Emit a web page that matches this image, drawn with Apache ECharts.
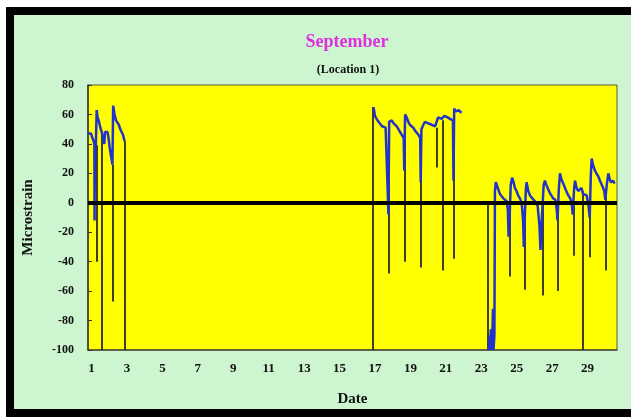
<!DOCTYPE html>
<html><head><meta charset="utf-8">
<script src="https://cdn.jsdelivr.net/npm/echarts@6/dist/echarts.min.js"></script>
<style>
html,body{margin:0;padding:0;background:#fff;width:631px;height:417px;overflow:hidden}
#frame{position:absolute;left:6px;top:7px;width:640px;height:394px;border-top:8px solid #000;border-left:8px solid #000;border-bottom:8px solid #000;background:#cdf5cf}
#chart{position:absolute;left:0;top:0;width:631px;height:417px}
</style></head><body>
<div id="frame"></div><div id="chart"></div>
<script>
// Trace readings (day of month, microstrain); null = no data
const traceDays = [
 0.80,0.88,0.97,1.05,1.12,1.16,1.17,1.19,1.24,1.28,1.29,1.34,1.40,1.46,1.52,1.58,1.62,1.67,1.72,1.76,1.82,1.90,1.96,2.02,2.08,2.14,2.18,2.22,2.30,2.38,2.46,2.54,2.62,2.70,2.78,2.86,2.90,
 16.92,17.00,17.09,17.20,17.28,17.40,17.50,17.60,17.70,17.76,17.80,17.94,18.05,18.13,18.22,18.31,18.42,18.52,18.62,18.65,18.70,18.79,18.88,18.97,19.06,19.16,19.26,19.36,19.46,19.55,19.58,19.62,19.73,19.82,19.92,20.01,20.10,20.20,20.29,20.40,20.48,20.56,20.67,20.76,20.84,20.92,21.00,21.10,21.23,21.33,21.40,21.43,21.47,21.56,21.64,21.72,21.80,21.88,21.95,
 23.42,23.46,23.50,23.54,23.58,23.62,23.66,23.69,23.74,23.77,23.82,23.88,23.96,24.05,24.15,24.24,24.34,24.43,24.50,24.54,24.60,24.66,24.74,24.82,24.90,24.99,25.08,25.18,25.28,25.36,25.40,25.46,25.52,25.56,25.65,25.75,25.88,26.03,26.18,26.28,26.34,26.42,26.52,26.59,26.68,26.78,26.90,27.06,27.18,27.26,27.30,27.38,27.44,27.52,27.63,27.76,27.91,28.02,28.10,28.16,28.24,28.29,28.38,28.47,28.56,28.66,28.74,28.85,28.95,29.05,29.12,29.18,29.23,29.30,29.41,29.50,29.60,29.70,29.79,29.88,29.94,30.00,30.08,30.17,30.25,30.32,30.40,30.45,30.52
];
const traceValues = [
 47,46,47,44,42,40,-12,40,38,39,63,58,56,53,50,48,45,42,40,48,49,48,44,38,33,29,26,66,60,56,55,53,50,49,46,42,null,
 65,59,57,55,54,52,52,51,50,-8,55,56,54,53,52,51,48,46,44,22,60,58,55,53,52,51,49,48,46,44,14,50,53,55,55,54,54,53,53,52,51,58,58,57,56,59,60,58,57,57,56,15,64,62,61,63,62,61,null,
 -100,-90,-100,-86,-100,-92,-72,-100,-90,8,14,13,9,6,5,3,2,1,-5,-23,-10,12,17,14,10,8,5,3,0,-12,-30,-8,10,14,8,5,3,1,-2,-15,-32,-10,12,15,12,9,6,3,2,-5,-12,10,20,16,13,9,5,3,0,-8,10,15,10,8,9,10,6,7,5,-2,-10,18,30,26,22,20,18,15,14,10,8,2,12,20,16,14,13,15,13
];
// Sharp drop-outs drawn as dark vertical strokes
const spikeDays = [1.28,1.60,2.19,2.87,16.90,17.75,18.66,19.58,20.48,20.85,21.42,23.39,24.60,25.48,26.45,27.33,28.22,28.72,29.13,30.04];
const spikeTops = [39,46,26,42,65,50,44,44,51,56,56,0,0,0,0,0,0,8,2,5];
const spikeLows = [-40,-100,-67,-100,-100,-48,-40,-44,24,-46,-38,-100,-50,-59,-63,-60,-36,-100,-37,-46];
const dateTicks = [1,3,5,7,9,11,13,15,17,19,21,23,25,27,29];
const chartTitle = 'September';
const chartSubtitle = '(Location 1)';

const serif = '"Liberation Serif","DejaVu Serif",serif';
const trace = traceDays.map((d,i)=>[d, traceValues[i]===null ? '-' : traceValues[i]]);
const spikes = spikeDays.map((d,i)=>({coords:[[d,spikeTops[i]],[d,spikeLows[i]]]}));

const chart = echarts.init(document.getElementById('chart'));
chart.setOption({
  animation:false,
  graphic:[
    {type:'text', x:347, y:42, style:{text:chartTitle, textAlign:'center', textVerticalAlign:'middle', fill:'#e02ee0', font:'bold 18px '+serif}},
    {type:'text', x:348, y:70, style:{text:chartSubtitle, textAlign:'center', textVerticalAlign:'middle', fill:'#111', font:'bold 12px '+serif}}
  ],
  grid:{left:88, right:14, top:85, bottom:67, show:true, backgroundColor:'#ffff00', borderColor:'#5a5a3a', borderWidth:1},
  xAxis:{
    type:'value', min:0.8, max:30.66,
    axisLine:{show:true, onZero:false, lineStyle:{color:'#4a4a3a', width:1.5}},
    axisTick:{show:false},
    splitLine:{show:false},
    axisLabel:{customValues:dateTicks, margin:12, color:'#111', fontFamily:serif, fontWeight:'bold', fontSize:13},
    name:'Date', nameLocation:'middle', nameGap:42,
    nameTextStyle:{color:'#111', fontFamily:serif, fontWeight:'bold', fontSize:15}
  },
  yAxis:{
    type:'value', min:-100, max:80, interval:20,
    axisLine:{show:true, lineStyle:{color:'#333', width:1.5}},
    axisTick:{show:true, inside:true, length:4, lineStyle:{color:'#333'}},
    splitLine:{show:false},
    axisLabel:{margin:14, color:'#111', fontFamily:serif, fontWeight:'bold', fontSize:12},
    name:'Microstrain', nameLocation:'middle', nameGap:52, nameRotate:90,
    nameTextStyle:{color:'#111', fontFamily:serif, fontWeight:'bold', fontSize:15}
  },
  series:[
    {type:'lines', coordinateSystem:'cartesian2d', z:2, silent:true,
     lineStyle:{color:'#2a2a33', width:1.8, opacity:1},
     data:spikes,
     markLine:{silent:true, symbol:'none', label:{show:false},
       lineStyle:{color:'#000', width:4, type:'solid'}, data:[{yAxis:0}]}
    },
    {type:'line', z:3, data:trace, showSymbol:false, connectNulls:false,
     lineStyle:{color:'#2233cc', width:2.5}}
  ]
});
</script></body></html>
